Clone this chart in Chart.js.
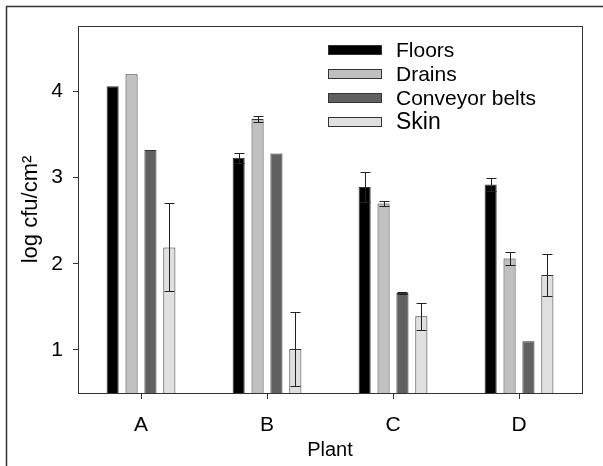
<!DOCTYPE html>
<html>
<head>
<meta charset="utf-8">
<script src="https://cdn.jsdelivr.net/npm/chart.js@4/dist/chart.umd.min.js"></script>
<style>
  html, body { margin: 0; padding: 0; background: #fff; }
  #wrap { width: 603px; height: 466px; position: relative; }
</style>
</head>
<body>
<div id="wrap"><canvas id="c" width="603" height="466"></canvas></div>
<script>
const categories = ['A', 'B', 'C', 'D'];
const seriesNames = ['Floors', 'Drains', 'Conveyor belts', 'Skin'];
const floors = [4.06, 3.23, 2.89, 2.92];
const drains = [4.20, 3.68, 2.70, 2.06];
const conveyor = [3.32, 3.28, 1.66, 1.10];
const skin = [2.19, 1.01, 1.39, 1.87];
const floorsErr = [0, 0.055, 0.17, 0.075];
const drainsErr = [0, 0.03, 0.03, 0.08];
const conveyorErr = [0, 0, 0.01, 0];
const skinErr = [0.51, 0.43, 0.16, 0.24];
const yTicks = [1, 2, 3, 4];
const yMin = 0.5, yMax = 4.76;

const colors = ['#000000', '#c0c0c0', '#606060', '#e0e0e0'];
const values = [floors, drains, conveyor, skin];
const errors = [floorsErr, drainsErr, conveyorErr, skinErr];
const FONT = "'Liberation Sans', Arial, sans-serif";

const errorBarPlugin = {
  id: 'errorBars',
  afterDatasetsDraw(chart) {
    const ctx = chart.ctx;
    const yScale = chart.scales.y;
    ctx.save();
    ctx.strokeStyle = '#222';
    ctx.lineWidth = 1;
    chart.data.datasets.forEach((ds, di) => {
      const meta = chart.getDatasetMeta(di);
      meta.data.forEach((bar, i) => {
        const e = ds.errors[i];
        if (!e) return;
        const v = ds.data[i];
        const x = Math.round(bar.x) + 0.5;
        const yt = Math.round(yScale.getPixelForValue(v + e)) + 0.5;
        const yb = Math.round(yScale.getPixelForValue(v - e)) + 0.5;
        const hw = 5;
        ctx.beginPath();
        ctx.moveTo(x, yt); ctx.lineTo(x, yb);
        ctx.moveTo(x - hw, yt); ctx.lineTo(x + hw, yt);
        ctx.moveTo(x - hw, yb); ctx.lineTo(x + hw, yb);
        ctx.stroke();
      });
    });
    ctx.restore();
  }
};

const framePlugin = {
  id: 'frames',
  beforeDraw(chart) {
    const ctx = chart.ctx;
    ctx.save();
    ctx.fillStyle = '#fff';
    ctx.fillRect(0, 0, chart.width, chart.height);
    ctx.strokeStyle = '#333';
    ctx.lineWidth = 1.5;
    ctx.beginPath();
    ctx.moveTo(6.5, chart.height);
    ctx.lineTo(6.5, 6.5);
    ctx.lineTo(chart.width, 6.5);
    ctx.stroke();
    ctx.restore();
  },
  afterDatasetsDraw(chart) {
    const a = chart.chartArea;
    const ctx = chart.ctx;
    ctx.save();
    ctx.strokeStyle = '#333';
    ctx.lineWidth = 1;
    ctx.strokeRect(Math.round(a.left) + 0.5, Math.round(a.top) + 0.5,
                   Math.round(a.right - a.left), Math.round(a.bottom - a.top));
    ctx.restore();
  }
};

const legendPlugin = {
  id: 'customLegend',
  afterDraw(chart) {
    const a = chart.chartArea;
    const ctx = chart.ctx;
    ctx.save();
    const sx = a.left + 250, sw = 54, sh = 10;
    chart.data.datasets.forEach((ds, i) => {
      const cy = a.top + 24 + i * 24;
      ctx.fillStyle = ds.backgroundColor;
      ctx.fillRect(sx, Math.round(cy - sh / 2), sw, sh);
      ctx.strokeStyle = '#333';
      ctx.lineWidth = 1;
      ctx.strokeRect(sx + 0.5, Math.round(cy - sh / 2) + 0.5, sw - 1, sh - 1);
      ctx.fillStyle = '#000';
      ctx.textBaseline = 'middle';
      ctx.textAlign = 'left';
      ctx.font = (i === 3 ? '23px ' : '21px ') + FONT;
      ctx.fillText(ds.label, sx + 68, cy + 1);
    });
    ctx.restore();
  }
};

new Chart(document.getElementById('c'), {
  type: 'bar',
  data: {
    labels: categories,
    datasets: seriesNames.map((name, i) => ({
      label: name,
      data: values[i],
      errors: errors[i],
      backgroundColor: colors[i],
      borderColor: '#333',
      borderWidth: 1,
      categoryPercentage: 0.6,
      barPercentage: 0.64
    }))
  },
  options: {
    responsive: false,
    animation: false,
    devicePixelRatio: 1,
    layout: { padding: { top: 26, right: 21, left: 0, bottom: 0 } },
    plugins: { legend: { display: false }, tooltip: { enabled: false } },
    scales: {
      x: {
        grid: { display: true, drawOnChartArea: false, drawTicks: true, tickLength: 6, offset: false, color: '#333' },
        border: { display: false },
        ticks: { color: '#000', font: { family: FONT, size: 21 }, padding: 14 },
        title: { display: true, text: 'Plant', color: '#000', font: { family: FONT, size: 20 }, padding: { top: 5 } },
        afterFit(scale) { scale.height = 73; }
      },
      y: {
        min: yMin, max: yMax,
        afterBuildTicks(scale) { scale.ticks = yTicks.map(v => ({ value: v })); },
        grid: { display: true, drawOnChartArea: false, drawTicks: true, tickLength: 5, color: '#333' },
        border: { display: false },
        ticks: { color: '#000', font: { family: FONT, size: 21 }, padding: 10 },
        title: { display: true, text: 'log cfu/cm²', color: '#000', font: { family: FONT, size: 22 }, padding: { top: 18 } },
        afterFit(scale) { scale.width = 78; }
      }
    }
  },
  plugins: [framePlugin, errorBarPlugin, legendPlugin]
});
</script>
</body>
</html>
